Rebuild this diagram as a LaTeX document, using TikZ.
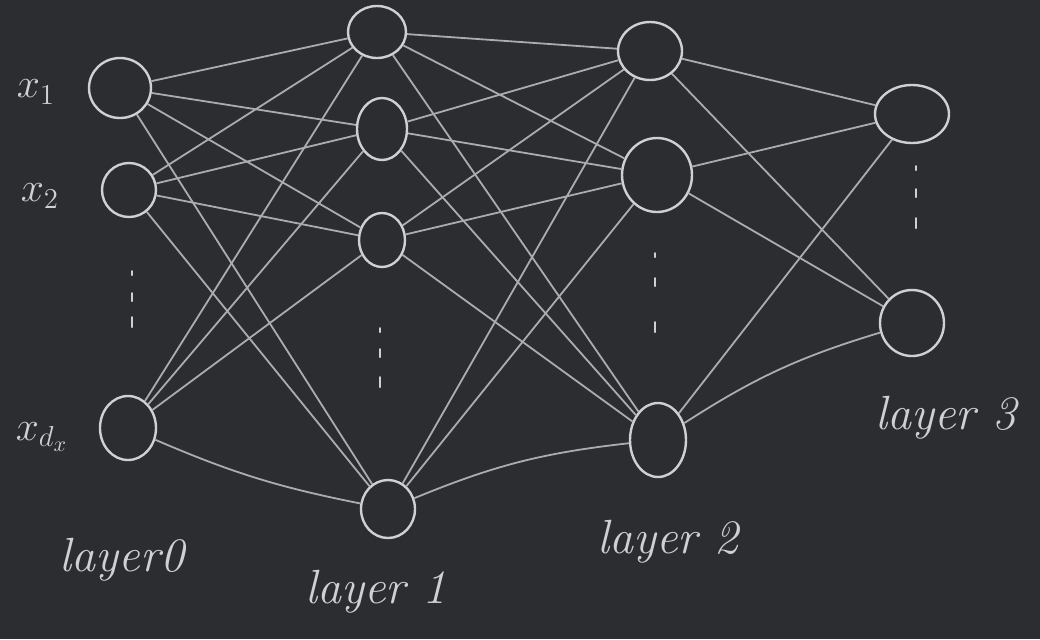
\documentclass[tikz,border=0pt]{standalone}
\usetikzlibrary{shapes.geometric}
\definecolor{board}{HTML}{2B2D30}
\definecolor{chalk}{HTML}{CDD0D4}
\definecolor{chalkdim}{HTML}{A9ADB2}
\begin{document}
\begin{tikzpicture}[x=0.5pt,y=-0.5pt,
  neuron/.style={draw=chalk, line width=1.2pt, ellipse, inner sep=0pt},
  edge/.style={draw=chalkdim, line width=0.9pt},
  lbl/.style={text=chalk, font=\fontsize{22}{26}\selectfont\itshape},
  laylbl/.style={text=chalk, font=\fontsize{24}{28}\selectfont\itshape},
  tickmark/.style={draw=chalk, line width=1pt, line cap=round}]
\fill[board] (0,0) rectangle (1040,639);
\useasboundingbox (0,0) rectangle (1040,639);
% layer 0
\node[neuron, minimum width=31pt, minimum height=30pt] (a1) at (120,88) {};
\node[neuron, minimum width=27pt, minimum height=27pt] (a2) at (129,190) {};
\node[neuron, minimum width=28pt, minimum height=32pt] (a3) at (128,428) {};
% layer 1
\node[neuron, minimum width=29pt, minimum height=26pt] (b1) at (377,32) {};
\node[neuron, minimum width=25pt, minimum height=31pt] (b2) at (382,129) {};
\node[neuron, minimum width=23pt, minimum height=27pt] (b3) at (382,240) {};
\node[neuron, minimum width=27pt, minimum height=29pt] (b4) at (388,509) {};
% layer 2
\node[neuron, minimum width=32pt, minimum height=29pt] (c1) at (650,51) {};
\node[neuron, minimum width=35pt, minimum height=37pt] (c2) at (657,175) {};
\node[neuron, minimum width=28pt, minimum height=37pt] (c3) at (658,440) {};
% layer 3
\node[neuron, minimum width=37pt, minimum height=29pt] (d1) at (912,114) {};
\node[neuron, minimum width=32pt, minimum height=33pt] (d2) at (912,323) {};
% edges
\foreach \s in {a1,a2,a3}{\foreach \t in {b1,b2,b3}{\draw[edge] (\s) -- (\t);}}
\draw[edge] (a1) -- (b4);
\draw[edge] (a2) -- (b4);
\draw[edge] (a3) to[bend right=6] (b4);
\foreach \s in {b1,b2,b3,b4}{\foreach \t in {c1,c2}{\draw[edge] (\s) -- (\t);}}
\foreach \s in {b1,b2,b3}{\draw[edge] (\s) -- (c3);}
\draw[edge] (b4) to[bend left=8] (c3);
\foreach \s in {c1,c2}{\foreach \t in {d1,d2}{\draw[edge] (\s) -- (\t);}}
\draw[edge] (c3) -- (d1);
\draw[edge] (c3) to[bend left=8] (d2);
% dots
\foreach \x/\y/\h in {132/273/2,132/297/4,132/322/5,380/330/2,380/353/4,380/382/5,655/255/2,655/282/4,655/327/5,916/168/2,916/193/4,916/223/5}{
  \draw[tickmark] (\x,\y-\h) -- (\x,\y+\h);}
% labels
\node[lbl] (lx1) at (36,92) {$x_1$};
\node[lbl] (lx2) at (40,196) {$x_2$};
\node[lbl] (lx3) at (42,437) {$x_{d_x}$};
\node[laylbl] (l0) at (122,560) {layer0};
\node[laylbl] (l1) at (376,592) {layer 1};
\node[laylbl] (l2) at (668,542) {layer 2};
\node[laylbl] (l3) at (946,418) {layer 3};
\end{tikzpicture}
\end{document}
